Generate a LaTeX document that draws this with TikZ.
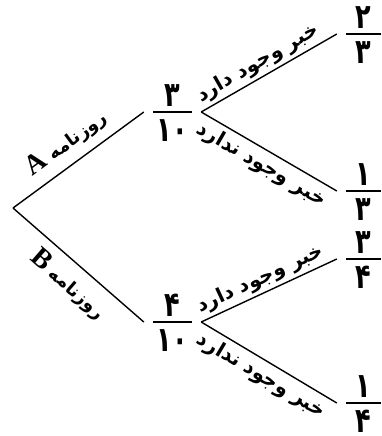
\documentclass[tikz,border=0pt]{standalone}
\usepackage{fontspec}
\usepackage{graphicx}
\TeXXeTstate=1
\newfontfamily\fa[Script=Arabic]{DejaVu Sans}
\newfontfamily\lat{Liberation Serif}
\newcommand\dg[1]{\scalebox{0.85}[1.15]{#1}}
\newcommand\pfr[3]{\vbox{\offinterlineskip\hsize=#1
\hbox to #1{\hss\vrule height 24pt depth 0pt width 0pt\smash{\dg{#2}}\hss}%
\kern4.5pt\hrule height 1.6pt\kern6.5pt
\hbox to #1{\hss\vrule height 22pt depth 0pt width 0pt\smash{\dg{#3}}\hss}}}
\begin{document}
\begin{tikzpicture}[x=1pt,y=-1pt,
  frac/.style={inner xsep=9pt,inner ysep=0pt,font=\fa\bfseries\fontsize{30}{30}\selectfont},
  lab/.style={sloped,inner sep=2pt,font=\fa\bfseries\fontsize{18}{18}\selectfont},
  sub/.style={lab,font=\fa\bfseries\fontsize{20}{20}\selectfont},
  br/.style={line width=1.4pt}]
\useasboundingbox (0,0) rectangle (381,436);
\coordinate (r) at (13,208);
\node[frac] (f1) at (172.5,112) {\pfr{39pt}{۳}{۱۰}};
\node[frac] (f4) at (172.5,322) {\pfr{39pt}{۴}{۱۰}};
\node[frac] (f2) at (363.5,34) {\pfr{35pt}{۲}{۳}};
\node[frac] (f3) at (363.5,191) {\pfr{35pt}{۱}{۳}};
\node[frac] (f5) at (363.5,259) {\pfr{35pt}{۳}{۴}};
\node[frac] (f6) at (363.5,403) {\pfr{35pt}{۱}{۴}};
\draw[br] (r) -- node[lab,above=7pt,pos=0.5] {\beginR روزنامه {\lat\bfseries\fontsize{28}{28}\selectfont A}\endR} (f1.west);
\draw[br] (r) -- node[lab,below=7pt,pos=0.53] {\beginR روزنامه {\lat\bfseries\fontsize{28}{28}\selectfont B}\endR} (f4.west);
\draw[br] (f1.east) -- node[sub,above=1pt,pos=0.47] {\beginR خبر وجود دارد\endR} (f2.west);
\draw[br] (f1.east) -- node[sub,below=3pt,pos=0.5] {\beginR خبر وجود ندارد\endR} (f3.west);
\draw[br] (f4.east) -- node[sub,above=1pt,pos=0.48] {\beginR خبر وجود دارد\endR} (f5.west);
\draw[br] (f4.east) -- node[sub,below=3pt,pos=0.5] {\beginR خبر وجود ندارد\endR} (f6.west);
\end{tikzpicture}
\end{document}
